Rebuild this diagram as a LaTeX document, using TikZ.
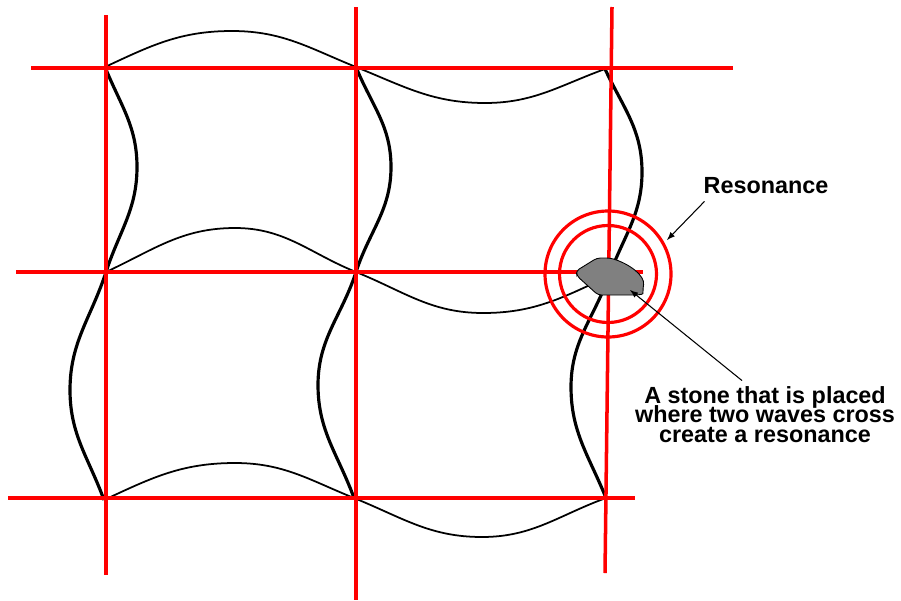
\documentclass[tikz,border=0pt]{standalone}
\usepackage{fontspec}
\setmainfont{Liberation Sans}
\newcommand\notefont{\fontsize{13.3}{10.9}\selectfont\bfseries\setlength{\lineskiplimit}{-20pt}}
\begin{document}
\begin{tikzpicture}[x=0.02cm, y=0.02cm, >=latex,
    grid/.style={red, line width=2pt},
    vwave/.style={black, line width=1.8pt},
    hwave/.style={black, line width=1pt},
    note/.style={font=\notefont, align=center}]
    \useasboundingbox (0,0) rectangle (901,600);

    % 1. Crossing points of the waves
    \coordinate (A1) at (105,533);
    \coordinate (A2) at (356,533);
    \coordinate (A3) at (605,531);
    \coordinate (B1) at (106,328);
    \coordinate (B2) at (356,328);
    \coordinate (B3) at (609,324);
    \coordinate (C1) at (104,100);
    \coordinate (C2) at (354,102);
    \coordinate (C3) at (606,102);
    \coordinate (O) at (608,326);

    % 2. Vertical waves (thick black)
    \draw[vwave] (A1) to[out=-68,in=90] (137,433) to[out=-90,in=72] (B1)
        to[out=-108,in=90] (70,210) to[out=-90,in=110] (C1);
    \draw[vwave] (A2) to[out=-68,in=90] (391,433) to[out=-90,in=72] (B2)
        to[out=-108,in=90] (318,215) to[out=-90,in=110] (C2);
    \draw[vwave] (A3) to[out=-65,in=90] (642,428) to[out=-90,in=70] (B3)
        to[out=-110,in=90] (571,213) to[out=-90,in=112] (C3);

    % 3. Horizontal waves (thin black)
    \draw[hwave] (A1) to[out=25,in=180] (232,569) to[out=0,in=158] (A2)
        to[out=-22,in=180] (485,497) to[out=0,in=200] (A3);
    \draw[hwave] (B1) to[out=25,in=180] (235,372) to[out=0,in=158] (B2)
        to[out=-22,in=180] (483,287) to[out=0,in=205] (B3);
    \draw[hwave] (C1) to[out=25,in=180] (235,137) to[out=0,in=158] (C2)
        to[out=-22,in=180] (482,63) to[out=0,in=200] (C3);

    % 4. Red grid lines
    \draw[grid] (106,585) -- (106,25);
    \draw[grid] (356,593) -- (356,0);
    \draw[grid] (612,593) -- (605,27);
    \draw[grid] (31,532) -- (733,532);
    \draw[grid] (16,328) -- (643,328);
    \draw[grid] (8,102) -- (635,102);

    % 5. Resonance rings
    \foreach \r in {48.5, 63} {
        \draw[grid, line width=1.8pt] (O) circle (\r);
    }

    % 6. The stone
    \filldraw[fill=gray, draw=black, line width=0.5pt, rounded corners=2pt]
        (576,329) -- (597,342) -- (610,342)
        .. controls (630,336) and (645,324) .. (643,312)
        .. controls (643,306) .. (638,305) -- (598,305) -- (577,324) -- cycle;

    % 7. Labels and arrows
    \coordinate (restip) at (667,360);
    \coordinate (stonetip) at (630,310);
    \node[note, anchor=base] (res) at (766,407) {Resonance};
    \node[note] (stonetext) at (765,185.5) {A stone that is placed\\where two waves cross\\create a resonance};
    \draw[->, line width=0.6pt] ([shift={(7,-2)}]res.south west) -- (restip);
    \draw[->, line width=0.6pt] ([shift={(-23,0)}]stonetext.north) -- (stonetip);
\end{tikzpicture}
\end{document}
